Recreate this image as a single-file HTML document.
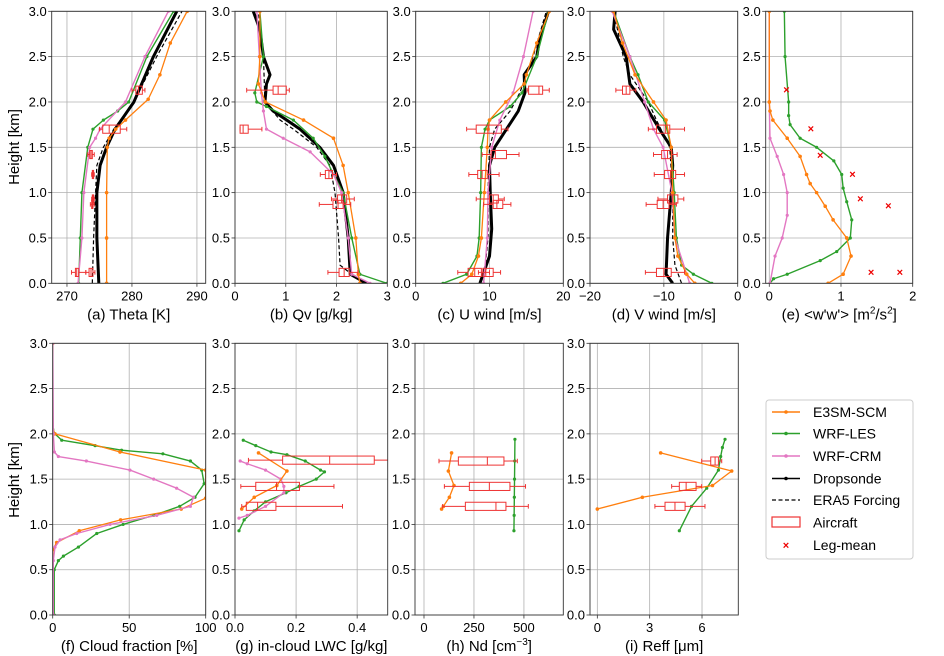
<!DOCTYPE html>
<html><head><meta charset="utf-8"><style>
html,body{margin:0;padding:0;background:#fff;}
svg{display:block;font-family:"Liberation Sans","DejaVu Sans",sans-serif;}
</style></head><body>
<svg id="fig" width="944" height="656" viewBox="0 0 944 656" xmlns="http://www.w3.org/2000/svg">
<text x="19" y="147" font-size="15" text-anchor="middle" transform="rotate(-90 19 147)">Height [km]</text>
<text x="19" y="480" font-size="15" text-anchor="middle" transform="rotate(-90 19 480)">Height [km]</text>
<g>
<rect x="766" y="400" width="147" height="159" rx="3" fill="#fff" stroke="#ccc" stroke-width="1"/>
<line x1="772" y1="412" x2="800" y2="412" stroke="#ff7f0e" stroke-width="1.5"/><circle cx="786" cy="412" r="1.8" fill="#ff7f0e"/>
<text x="813" y="417" font-size="14">E3SM-SCM</text>
<line x1="772" y1="433.5" x2="800" y2="433.5" stroke="#2ca02c" stroke-width="1.5"/><circle cx="786" cy="433.5" r="1.8" fill="#2ca02c"/>
<text x="813" y="438.5" font-size="14">WRF-LES</text>
<line x1="772" y1="456" x2="800" y2="456" stroke="#e377c2" stroke-width="1.5"/><circle cx="786" cy="456" r="1.8" fill="#e377c2"/>
<text x="813" y="461" font-size="14">WRF-CRM</text>
<line x1="772" y1="478.5" x2="800" y2="478.5" stroke="#000" stroke-width="1.5"/><circle cx="786" cy="478.5" r="1.8" fill="#000"/>
<text x="813" y="483.5" font-size="14">Dropsonde</text>
<line x1="772" y1="500" x2="800" y2="500" stroke="#000" stroke-width="1.3" stroke-dasharray="4,2.5"/>
<text x="813" y="505" font-size="14">ERA5 Forcing</text>
<rect x="772" y="517" width="28" height="10" fill="none" stroke="#ee3333" stroke-width="1.2"/>
<text x="813" y="527.5" font-size="14">Aircraft</text>
<text x="786" y="549" font-size="11" fill="#ee0000" text-anchor="middle" font-weight="bold">×</text>
<text x="813" y="550" font-size="14">Leg-mean</text>
</g>
</svg>
<script>
// ---------- DATA ----------
// (a) Theta [K]
const aE3H=[0,0.5,1,1.5,1.6,1.7,1.8,2.03,2.3,2.65,3.0];
const aE3V=[276.1,276.1,276.1,276.2,276.5,277.5,279,282.5,284.3,285.9,288.5];
const aLesH=[0,0.5,1,1.5,1.7,1.8,1.9,2.0,2.5,3.0];
const aLesV=[271.8,272.05,272.3,273.2,274,275.6,277.8,279.5,282.3,286.4];
const aCrmH=[0,0.5,1,1.5,1.6,1.7,2.0,2.5,3.0];
const aCrmV=[271.7,272.3,272.6,273.5,274.4,275.1,279,282,285.6];
const aDsH=[0,0.5,1,1.3,1.5,1.7,2.0,2.5,3.0];
const aDsV=[274.9,274.6,274.6,275.1,276.1,277.4,280.3,283.3,286.9];
const aEraH=[0,0.5,1,1.3,1.5,1.7,2.0,2.5,3.0];
const aEraV=[273.9,274.1,274.4,274.6,275.6,277.2,280.3,283.8,287.7];
const aBoxH=[2.13,1.7,1.42,1.2,0.93,0.87,0.12,0.12];
const aBoxLo=[280,275,273.2,273.8,273.8,273.6,270.7,272.9];
const aBoxQ1=[280.6,275.5,273.5,273.9,273.9,273.8,271.3,273.4];
const aBoxMed=[281,276.5,273.7,274,274,273.9,271.5,273.7];
const aBoxQ3=[281.6,278.2,273.9,274.1,274.1,274.0,271.8,274];
const aBoxHi=[282,279.2,274.2,274.2,274.2,274.2,272.9,274.3];
// (b) Qv [g/kg]
const bE3H=[0,0.1,0.5,1,1.3,1.6,1.8,2.0,2.2,2.5,3.0];
const bE3V=[2.46,2.43,2.38,2.23,2.13,1.94,1.35,0.6,0.46,0.49,0.49];
const bLesH=[0,0.1,0.5,1,1.2,1.4,1.6,1.8,1.95,2.0,2.1,2.5,3.0];
const bLesV=[2.99,2.46,2.3,2.13,1.94,1.77,1.54,1.15,0.62,0.43,0.39,0.56,0.49];
const bCrmH=[0,0.1,0.5,1,1.2,1.45,1.6,1.7,1.9,2.1,2.5,3.0];
const bCrmV=[2.66,2.3,2.23,2.1,1.94,1.48,0.95,0.62,0.56,0.52,0.48,0.43];
const bDsH=[0,0.1,0.5,0.8,1,1.3,1.5,1.7,1.8,1.9,2.0,2.2,2.3,2.5,2.8,3.0];
const bDsV=[2.59,2.27,2.23,2.17,2.13,1.94,1.67,1.28,1.02,0.75,0.59,0.62,0.69,0.56,0.49,0.36];
const bEraH=[0,0.2,0.5,1,1.3,1.5,1.7,1.8,2.0,2.5,3.0];
const bEraV=[2.53,2.07,2.04,1.97,1.87,1.61,1.15,0.89,0.59,0.56,0.46];
const bBoxH=[2.13,1.7,1.2,0.93,0.87,0.12];
const bBoxLo=[0.23,0.1,1.68,1.9,1.66,1.83];
const bBoxQ1=[0.75,0.1,1.78,2.02,1.93,2.05];
const bBoxMed=[0.85,0.16,1.85,2.1,2.03,2.15];
const bBoxQ3=[1.01,0.26,1.92,2.2,2.13,2.25];
const bBoxHi=[1.07,0.53,2.0,2.35,2.28,2.42];
// (c) U wind [m/s]
const cE3H=[0,0.1,0.3,0.5,1,1.5,1.7,1.8,2.0,2.2,2.3,2.65,3.0];
const cE3V=[6.1,7.6,8.5,8.9,9.3,9.7,9.8,10,12.2,14.7,15.0,16.4,18.1];
const cLesH=[0,0.1,0.3,0.5,1,1.5,1.7,1.8,1.95,2.1,2.5,3.0];
const cLesV=[3.7,6.9,8.3,8.6,8.8,8.9,9.4,10,12.8,14.4,16.4,18];
const cCrmH=[0,0.5,1,1.5,1.8,2.1,2.5,3.0];
const cCrmV=[9.2,9.7,9.8,10.3,11.4,13.2,14.6,15.9];
const cDsH=[0,0.3,0.6,1,1.3,1.5,1.7,1.9,2.1,2.3,2.5,2.7,3.0];
const cDsV=[8.7,10,10.3,10.1,10,10.7,12.3,13.9,14.8,14.7,16.4,16.8,18];
const cEraH=[0,0.5,1,1.5,1.7,1.9,2.1,2.5,3.0];
const cEraV=[9.2,9.8,9.8,10,10.7,12.8,14.1,15.9,17.7];
const cBoxH=[2.13,1.7,1.42,1.2,0.93,0.87,0.12,0.12];
const cBoxLo=[15.1,6.9,9.0,7.2,8.2,9.2,5.7,8.5];
const cBoxQ1=[15.3,8.2,10.2,8.4,10,10.5,7.1,9.1];
const cBoxMed=[16.7,9.8,10.8,9,10.5,11,8,9.5];
const cBoxQ3=[17.2,11.6,12.3,9.7,11.2,11.8,8.9,10.5];
const cBoxHi=[18.1,12.5,14.0,11.3,12,12.9,10,11.5];
// (d) V wind [m/s]
const dE3H=[0,0.1,0.3,0.5,1,1.5,1.8,2.0,2.3,2.65,3.0];
const dE3V=[-5.8,-6.9,-8.1,-8.5,-8.8,-9,-9.7,-11.4,-13.9,-15.6,-16.8];
const dLesH=[0,0.1,0.2,0.5,1,1.5,1.8,2.0,2.3,2.5,3.0];
const dLesV=[-3.5,-6,-7.6,-8.3,-8.6,-9,-9.9,-12.1,-13.5,-14.6,-16.8];
const dCrmH=[0,0.5,1,1.5,1.7,2.0,2.5,3.0];
const dCrmV=[-6.5,-8.5,-8.9,-10.1,-11.4,-12.6,-14.6,-17];
const dDsH=[0,0.1,0.5,1,1.3,1.5,1.7,2.0,2.2,2.5,2.8,3.0];
const dDsV=[-8.8,-9.7,-9.5,-9,-8.8,-9,-10.6,-12.8,-14.6,-15.1,-16.8,-16.6];
const dEraH=[0,0.2,0.5,1,1.5,1.8,2.0,2.3,2.5,3.0];
const dEraV=[-7.6,-8.5,-8.8,-8.8,-9.2,-11,-12.1,-14.6,-15.5,-16.8];
const dBoxH=[2.13,1.7,1.42,1.2,0.93,0.87,0.12];
const dBoxLo=[-16.5,-12.1,-11.4,-11.3,-10.8,-12.4,-12.5];
const dBoxQ1=[-15.6,-11,-10.3,-9.9,-9.5,-10.9,-11];
const dBoxMed=[-15.1,-9.8,-9.5,-9.1,-8.8,-10.1,-10];
const dBoxQ3=[-14.6,-9.2,-8.9,-8.4,-8.1,-9.3,-9];
const dBoxHi=[-13.8,-7.2,-8.2,-7.2,-7.3,-8.3,-7.2];
// (e) <w'w'> [m2/s2]
const eE3H=[0,0.1,0.3,0.5,0.7,0.85,1.0,1.1,1.2,1.4,1.6,1.8,1.9,2.0,3.0];
const eE3V=[0.82,1.03,1.14,1.08,0.89,0.78,0.66,0.57,0.52,0.43,0.25,0.05,0.01,0,0];
const eLesH=[0,0.05,0.1,0.25,0.35,0.5,0.7,0.9,1.05,1.2,1.35,1.5,1.6,1.75,1.85,2.0,2.5,3.0];
const eLesV=[0.01,0.06,0.25,0.71,0.94,1.13,1.15,1.08,1.03,1.01,0.9,0.66,0.43,0.29,0.27,0.27,0.22,0.21];
const eCrmH=[0,0.3,0.5,0.75,1.0,1.2,1.4,1.6,2.0,3.0];
const eCrmV=[0.01,0.08,0.18,0.25,0.25,0.2,0.11,0.01,0,0];
const eLegH=[2.13,1.7,1.41,1.2,0.93,0.85,0.12,0.12];
const eLegV=[0.24,0.58,0.71,1.16,1.27,1.66,1.42,1.82];
// (f) Cloud fraction [%]
const fE3H=[0,0.72,0.8,0.93,1.05,1.17,1.29,1.6,1.8,2.0,2.03,3.0];
const fE3V=[0,0,2.6,17.4,44.4,84,100,100,44,1.5,0,0];
const fLesH=[0,0.5,0.6,0.65,0.75,0.9,1.0,1.1,1.2,1.3,1.45,1.6,1.7,1.78,1.82,1.87,1.93,2.0,2.05,3.0];
const fLesV=[1,1,3.7,7,16.8,28.8,46,66,83,93,99,97.4,90,72,45,27.7,5.9,1.5,0,0];
const fCrmH=[0,0.6,0.75,0.83,0.9,1.0,1.1,1.2,1.3,1.4,1.5,1.6,1.7,1.75,1.8,2.0,3.0];
const fCrmV=[0.4,0.4,1.5,4.8,15.7,37.5,68,90,92,81,66,50.5,22,3.7,1.1,0.4,0];
// (g) in-cloud LWC [g/kg]
const gE3H=[1.79,1.59,1.43,1.3,1.17];
const gE3V=[0.077,0.17,0.137,0.063,0.022];
const gLesH=[1.93,1.87,1.8,1.77,1.7,1.6,1.58,1.5,1.42,1.35,1.25,1.15,1.05,0.93];
const gLesV=[0.027,0.068,0.118,0.17,0.23,0.28,0.293,0.266,0.21,0.167,0.1,0.063,0.03,0.013];
const gCrmH=[1.7,1.67,1.6,1.5,1.42,1.35,1.2,1.1,1.07];
const gCrmV=[0.017,0.04,0.1,0.15,0.16,0.16,0.1,0.04,0.013];
const gBoxH=[1.71,1.42,1.2];
const gBoxLo=[0.044,0.019,0.022];
const gBoxQ1=[0.156,0.068,0.037];
const gBoxMed=[0.31,0.136,0.074];
const gBoxQ3=[0.456,0.211,0.134];
const gBoxHi=[0.56,0.324,0.352];
// (h) Nd [cm-3]
const hE3H=[1.79,1.59,1.43,1.3,1.2,1.17];
const hE3V=[138,122,150,127,97,88];
const hLesH=[0.93,1.1,1.3,1.5,1.7,1.94];
const hLesV=[450,451,452,453,454,455];
const hBoxH=[1.7,1.42,1.2];
const hBoxLo=[75,102,93];
const hBoxQ1=[172,227,207];
const hBoxMed=[317,327,360];
const hBoxQ3=[400,430,410];
const hBoxHi=[467,508,522];
// (i) Reff [um]
const iE3H=[1.79,1.59,1.43,1.3,1.17];
const iE3V=[3.63,7.7,6.6,2.58,0];
const iLesH=[0.93,1.2,1.4,1.6,1.75,1.85,1.94];
const iLesV=[4.7,5.4,6.27,6.94,7.07,7.17,7.32];
const iBoxH=[1.7,1.42,1.2];
const iBoxLo=[5.98,4.26,3.3];
const iBoxQ1=[6.5,4.7,3.88];
const iBoxMed=[6.75,5.09,4.45];
const iBoxQ3=[6.94,5.66,5.03];
const iBoxHi=[7.13,5.98,6.17];
const yTicks=[0,0.5,1,1.5,2,2.5,3];
const yTickLabels=["0.0","0.5","1.0","1.5","2.0","2.5","3.0"];

// ---------- DRAWING ----------
const NS="http://www.w3.org/2000/svg";
const svg=document.getElementById('fig');
const OR="#ff7f0e",GR="#2ca02c",PK="#e377c2",RD="#ee3333";
function mk(tag,at,parent){const e=document.createElementNS(NS,tag);for(const k in at)e.setAttribute(k,at[k]);(parent||svg).appendChild(e);return e;}
let clipId=0;
function panel(id,x0,x1,y0,y1,xlim,xt,xtl,title){
  const g=mk('g',{});
  
  
  const sx=v=>x0+(v-xlim[0])/(xlim[1]-xlim[0])*(x1-x0);
  const sy=h=>y1-h/3*(y1-y0);
  // grid
  xt.forEach((v,i)=>{const l=mk('line',{x1:sx(v),x2:sx(v),y1:y0,y2:y1,stroke:'#b0b0b0','stroke-width':0.8},g);
    
    
    mk('line',{x1:sx(v),x2:sx(v),y1:y1,y2:y1+3.5,stroke:'#333','stroke-width':0.8},g);
    const t=mk('text',{x:sx(v),y:y1+17,'font-size':13,'text-anchor':'middle'},g);t.textContent=xtl[i];
    
    });
  yTicks.forEach((v,i)=>{const l=mk('line',{x1:x0,x2:x1,y1:sy(v),y2:sy(v),stroke:'#b0b0b0','stroke-width':0.8},g);
    
    
    mk('line',{x1:x0-3.5,x2:x0,y1:sy(v),y2:sy(v),stroke:'#333','stroke-width':0.8},g);
    const t=mk('text',{x:x0-5,y:sy(v)+4.5,'font-size':13,'text-anchor':'end'},g);t.textContent=yTickLabels[i];
    
    });
  const tt=mk('text',{x:(x0+x1)/2,y:y1+36,'font-size':15,'text-anchor':'middle'},g);tt.innerHTML=title;
  
  
  const cid='clip'+(clipId++);
  const cp=mk('clipPath',{id:cid},g);mk('rect',{x:x0,y:y0,width:x1-x0,height:y1-y0},cp);
  const plot=mk('g',{'clip-path':'url(#'+cid+')'},g);
  const frame=mk('rect',{x:x0,y:y0,width:x1-x0,height:y1-y0,fill:'none',stroke:'#333','stroke-width':0.9},g);
  
  
  return {sx,sy,plot,frame,g};
}
function line(P,H,V,color,opt,name){
  opt=opt||{};
  const pts=H.map((h,i)=>P.sx(V[i]).toFixed(2)+','+P.sy(h).toFixed(2)).join(' ');
  const pl=mk('polyline',{points:pts,fill:'none',stroke:color,'stroke-width':opt.w||1.4,'stroke-dasharray':opt.dash||'none','stroke-linejoin':'round'},P.plot);
  
  
  if(opt.mr){H.forEach((h,i)=>{const c=mk('circle',{cx:P.sx(V[i]),cy:P.sy(h),r:opt.mr,fill:color},P.plot);
    
    });}
}
function boxes(P,H,Lo,Q1,Med,Q3,Hi){
  const hh=0.045,ch=0.025;
  H.forEach((h,i)=>{
    const y=P.sy(h),yt=P.sy(h+hh),yb=P.sy(h-hh),ct=P.sy(h+ch),cb=P.sy(h-ch);
    const g=mk('g',{stroke:RD,'stroke-width':1,fill:'none'},P.plot);
    
    
    mk('line',{x1:P.sx(Lo[i]),x2:P.sx(Q1[i]),y1:y,y2:y},g);
    mk('line',{x1:P.sx(Q3[i]),x2:P.sx(Hi[i]),y1:y,y2:y},g);
    mk('line',{x1:P.sx(Lo[i]),x2:P.sx(Lo[i]),y1:ct,y2:cb},g);
    mk('line',{x1:P.sx(Hi[i]),x2:P.sx(Hi[i]),y1:ct,y2:cb},g);
    mk('rect',{x:P.sx(Q1[i]),y:yt,width:Math.max(1,P.sx(Q3[i])-P.sx(Q1[i])),height:yb-yt},g);
    mk('line',{x1:P.sx(Med[i]),x2:P.sx(Med[i]),y1:yt,y2:yb},g);
  });
}
function allProfiles(P,s){
  if(s.era) line(P,s.era[0],s.era[1],'#000',{w:1.2,dash:'4,2.5'},'era5-line');
  if(s.ds) line(P,s.ds[0],s.ds[1],'#000',{w:3},'dropsonde-line');
  if(s.les) line(P,s.les[0],s.les[1],GR,{w:1.4,mr:1.6},'wrf-les-line');
  if(s.crm) line(P,s.crm[0],s.crm[1],PK,{w:1.4,mr:1.6},'wrf-crm-line');
  if(s.e3) line(P,s.e3[0],s.e3[1],OR,{w:1.3,mr:1.8},'e3sm-line');
}
const T0=11.3,T1=283.3,B0=343.3,B1=615;
let P;
P=panel('a',51.7,205.7,T0,T1,[267.65,291.35],[270,280,290],['270','280','290'],'(a) Theta [K]');
allProfiles(P,{era:[aEraH,aEraV],ds:[aDsH,aDsV],les:[aLesH,aLesV],crm:[aCrmH,aCrmV],e3:[aE3H,aE3V]});
boxes(P,aBoxH,aBoxLo,aBoxQ1,aBoxMed,aBoxQ3,aBoxHi);
P=panel('b',235,387.3,T0,T1,[0,3],[0,1,2,3],['0','1','2','3'],'(b) Qv [g/kg]');
allProfiles(P,{era:[bEraH,bEraV],ds:[bDsH,bDsV],les:[bLesH,bLesV],crm:[bCrmH,bCrmV],e3:[bE3H,bE3V]});
boxes(P,bBoxH,bBoxLo,bBoxQ1,bBoxMed,bBoxQ3,bBoxHi);
P=panel('c',415.7,563.3,T0,T1,[0,20],[0,10,20],['0','10','20'],'(c) U wind [m/s]');
allProfiles(P,{era:[cEraH,cEraV],ds:[cDsH,cDsV],les:[cLesH,cLesV],crm:[cCrmH,cCrmV],e3:[cE3H,cE3V]});
boxes(P,cBoxH,cBoxLo,cBoxQ1,cBoxMed,cBoxQ3,cBoxHi);
P=panel('d',590,737.7,T0,T1,[-20,0],[-20,-10,0],['\u221220','\u221210','0'],'(d) V wind [m/s]');
allProfiles(P,{era:[dEraH,dEraV],ds:[dDsH,dDsV],les:[dLesH,dLesV],crm:[dCrmH,dCrmV],e3:[dE3H,dE3V]});
boxes(P,dBoxH,dBoxLo,dBoxQ1,dBoxMed,dBoxQ3,dBoxHi);
P=panel('e',765.7,912.7,T0,T1,[-0.05,2],[0,1,2],['0','1','2'],'(e) &lt;w\'w\'&gt; [m<tspan font-size="10" dy="-6">2</tspan><tspan dy="6">/s</tspan><tspan font-size="10" dy="-6">2</tspan><tspan dy="6">]</tspan>');
allProfiles(P,{les:[eLesH,eLesV],crm:[eCrmH,eCrmV],e3:[eE3H,eE3V]});
eLegH.forEach((h,i)=>{const t=mk('text',{x:P.sx(eLegV[i]),y:P.sy(h)+3.5,'font-size':11,'font-weight':'bold',fill:'#ee0000','text-anchor':'middle'},P.plot);t.textContent='×';
  
  });
P=panel('f',52.7,205.7,B0,B1,[0,100],[0,50,100],['0','50','100'],'(f) Cloud fraction [%]');
allProfiles(P,{les:[fLesH,fLesV],e3:[fE3H,fE3V]});
line(P,fCrmH,fCrmV,PK,{w:1.4,mr:1.6},'wrf-crm-line');
P=panel('g',235,387.7,B0,B1,[0,0.5],[0,0.2,0.4],['0.0','0.2','0.4'],'(g) in-cloud LWC [g/kg]');
allProfiles(P,{les:[gLesH,gLesV],crm:[gCrmH,gCrmV],e3:[gE3H,gE3V]});
boxes(P,gBoxH,gBoxLo,gBoxQ1,gBoxMed,gBoxQ3,gBoxHi);
P=panel('h',415,563.3,B0,B1,[-45,697],[0,250,500],['0','250','500'],'(h) Nd [cm<tspan font-size="10" dy="-6">\u22123</tspan><tspan dy="6">]</tspan>');
allProfiles(P,{les:[hLesH,hLesV],e3:[hE3H,hE3V]});
boxes(P,hBoxH,hBoxLo,hBoxQ1,hBoxMed,hBoxQ3,hBoxHi);
P=panel('i',590,738.3,B0,B1,[-0.42,8.08],[0,3,6],['0','3','6'],'(i) Reff [\u03bcm]');
allProfiles(P,{les:[iLesH,iLesV],e3:[iE3H,iE3V]});
boxes(P,iBoxH,iBoxLo,iBoxQ1,iBoxMed,iBoxQ3,iBoxHi);
</script>
</body></html>
